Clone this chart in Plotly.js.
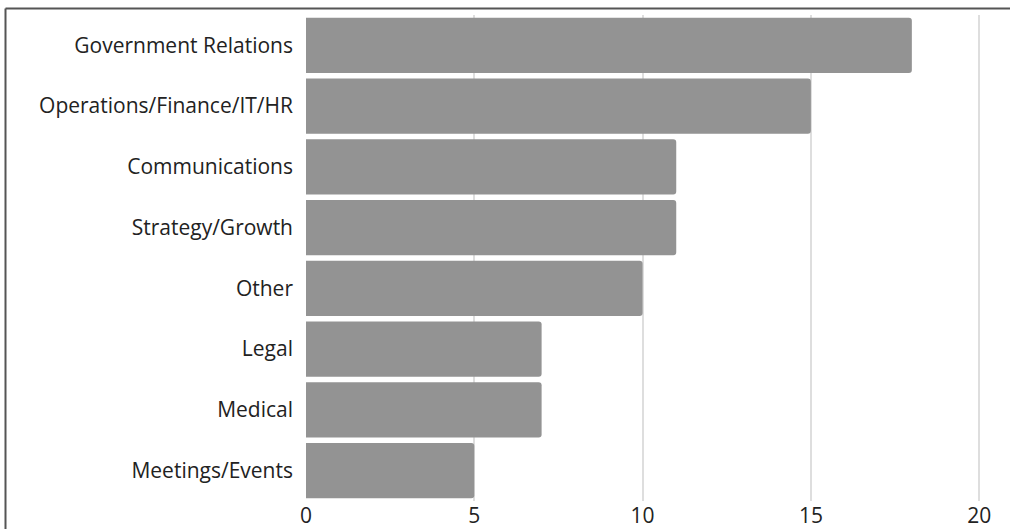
<!DOCTYPE html>
<html>
<head>
<meta charset="utf-8">
<script src="https://cdn.plot.ly/plotly-3.0.1.min.js"></script>
<style>
html,body{margin:0;padding:0;background:#fff;}
#chart{width:1010px;height:529px;}
</style>
</head>
<body>
<div id="chart"></div>
<script>
const categories = ["Government Relations","Operations/Finance/IT/HR","Communications","Strategy/Growth","Other","Legal","Medical","Meetings/Events"];
const counts = [18, 15, 11, 11, 10, 7, 7, 5];
const xTicks = [0, 5, 10, 15, 20];

const L = 306, R = 14, T = 15, B = 28, W = 1010, H = 529;
const pw = W - L - R, ph = H - T - B;
const px = v => (v - L) / pw;
const py = v => (H - B - v) / ph;

const trace = {
  type: 'bar',
  orientation: 'h',
  y: categories,
  x: counts,
  marker: {color: '#939393', cornerradius: 3},
  hoverinfo: 'none'
};

const layout = {
  width: W, height: H,
  margin: {l: L, r: R, t: T, b: B, pad: 0},
  paper_bgcolor: '#fff', plot_bgcolor: '#fff',
  bargap: 0.09,
  showlegend: false,
  font: {family: 'Open Sans, sans-serif', size: 21, color: '#222'},
  xaxis: {
    range: [0, 20.5],
    tickvals: xTicks,
    ticktext: xTicks.map(String),
    showgrid: true, gridcolor: '#dedede', gridwidth: 2,
    zeroline: false, showline: false, ticks: '',
    tickfont: {size: 21, color: '#222'},
    layer: 'below traces'
  },
  yaxis: {
    autorange: 'reversed',
    showgrid: false, zeroline: false, showline: false, ticks: '',
    ticklabelstandoff: 12,
    tickfont: {size: 21, color: '#222'}
  },
  shapes: [
    {type: 'line', xref: 'paper', yref: 'paper', x0: px(5.5), x1: px(1010), y0: py(8.5), y1: py(8.5), line: {color: '#555', width: 2}},
    {type: 'line', xref: 'paper', yref: 'paper', x0: px(5.5), x1: px(5.5), y0: py(8.5), y1: py(529), line: {color: '#555', width: 2}}
  ]
};

Plotly.newPlot('chart', [trace], layout, {displayModeBar: false, staticPlot: true});
</script>
</body>
</html>
